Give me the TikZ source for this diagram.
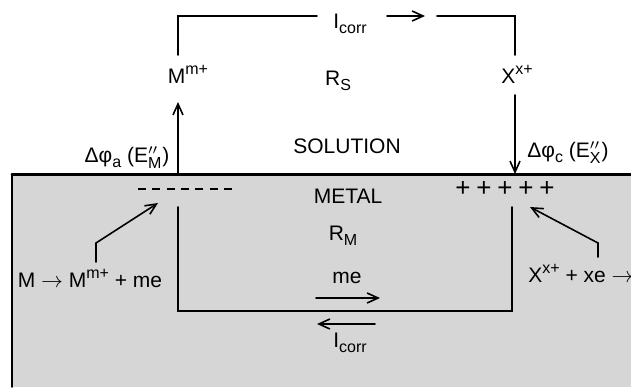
\documentclass[tikz,border=0pt]{standalone}
\usepackage{amsmath}
\usepackage{fontspec}
\setmainfont{Liberation Sans}
\usetikzlibrary{arrows.meta}

\newcommand{\supx}[1]{\raisebox{0.42em}{\fontsize{8}{9}\selectfont #1}}
\newcommand{\subx}[1]{\raisebox{-0.28em}{\fontsize{8}{9}\selectfont #1}}
\newcommand{\Epp}[1]{E\ensuremath{^{\prime\prime}_{\text{\fontsize{8}{9}\selectfont #1}}}}

\begin{document}
\begin{tikzpicture}[x=0.5pt,y=-0.5pt,>={Straight Barb[length=5.5pt,width=5pt]},line cap=round,line join=miter]
  \tikzset{wire/.style={line width=0.8pt},
           lbl/.style={inner sep=0pt,anchor=base,font=\fontsize{10.5}{12}\selectfont}}
  \useasboundingbox (0,0) rectangle (631,387);

  \fill[black!16] (12,174) rectangle (631,387);
  \draw[line width=1.5pt] (12,174) -- (631,174);
  \draw[line width=0.9pt] (12,174) -- (12,387);

  \node[lbl] (icorrtop) at (350,28) {I\subx{corr}};
  \node[lbl] (mion) at (188,83) {M\supx{m+}};
  \node[lbl] (rs) at (338,85) {R\subx{S}};
  \node[lbl] (xion) at (517,83) {X\supx{x+}};
  \node[lbl] (solution) at (347,153) {SOLUTION};
  \node[lbl] (dphia) at (127,162) {Δφ\subx{a} (\Epp{M})};
  \node[lbl] (dphic) at (568,157) {Δφ\subx{c} (\Epp{X})};
  \node[lbl] (metal) at (348,203) {METAL};
  \node[lbl] (rm) at (343,240) {R\subx{M}};
  \node[lbl] (me) at (347,283) {me};
  \node[lbl] (icorrbot) at (350,347) {I\subx{corr}};
  \node[lbl] (anodic) at (90,287) {M $\to$ M\supx{m+} + me};
  \node[lbl,anchor=base west] (cathodic) at (528,282) {X\supx{x+} + xe $\to$};

  \coordinate (ltop) at (178,55);
  \coordinate (rtop) at (515,55);
  \coordinate (lwire) at (317,16);
  \coordinate (rwire) at (437,16);
  \draw[wire] (ltop) |- (lwire);
  \draw[wire] (rwire) -| (rtop);
  \draw[wire,->] (387,16) -- (425,16);

  \coordinate (asurf) at (178,174);
  \coordinate (csurf) at (515,174);
  \draw[wire,->] (asurf) -- (178,102);
  \draw[wire,->] (515,95) -- (csurf);

  \coordinate (lin) at (178,207);
  \coordinate (rin) at (512,207);
  \draw[wire] (lin) |- (512,311) -- (rin);
  \draw[wire,->] (316,298) -- (380,298);
  \draw[wire,->] (375,324) -- (317,324);

  \draw[wire,->] (96,262) -- (96,243) -- (158,203);
  \draw[wire,->] (598,257) -- (598,243) -- (530,207);

  \foreach \i in {0,...,6}
    \draw[line width=1.3pt,line cap=butt] ({138+\i*14.3},189) -- ++(8,0);
  \foreach \i in {0,...,4}
    \node[lbl,font=\fontsize{13}{14}\selectfont] (plus\i) at ({463+\i*21},196) {+};
\end{tikzpicture}
\end{document}
